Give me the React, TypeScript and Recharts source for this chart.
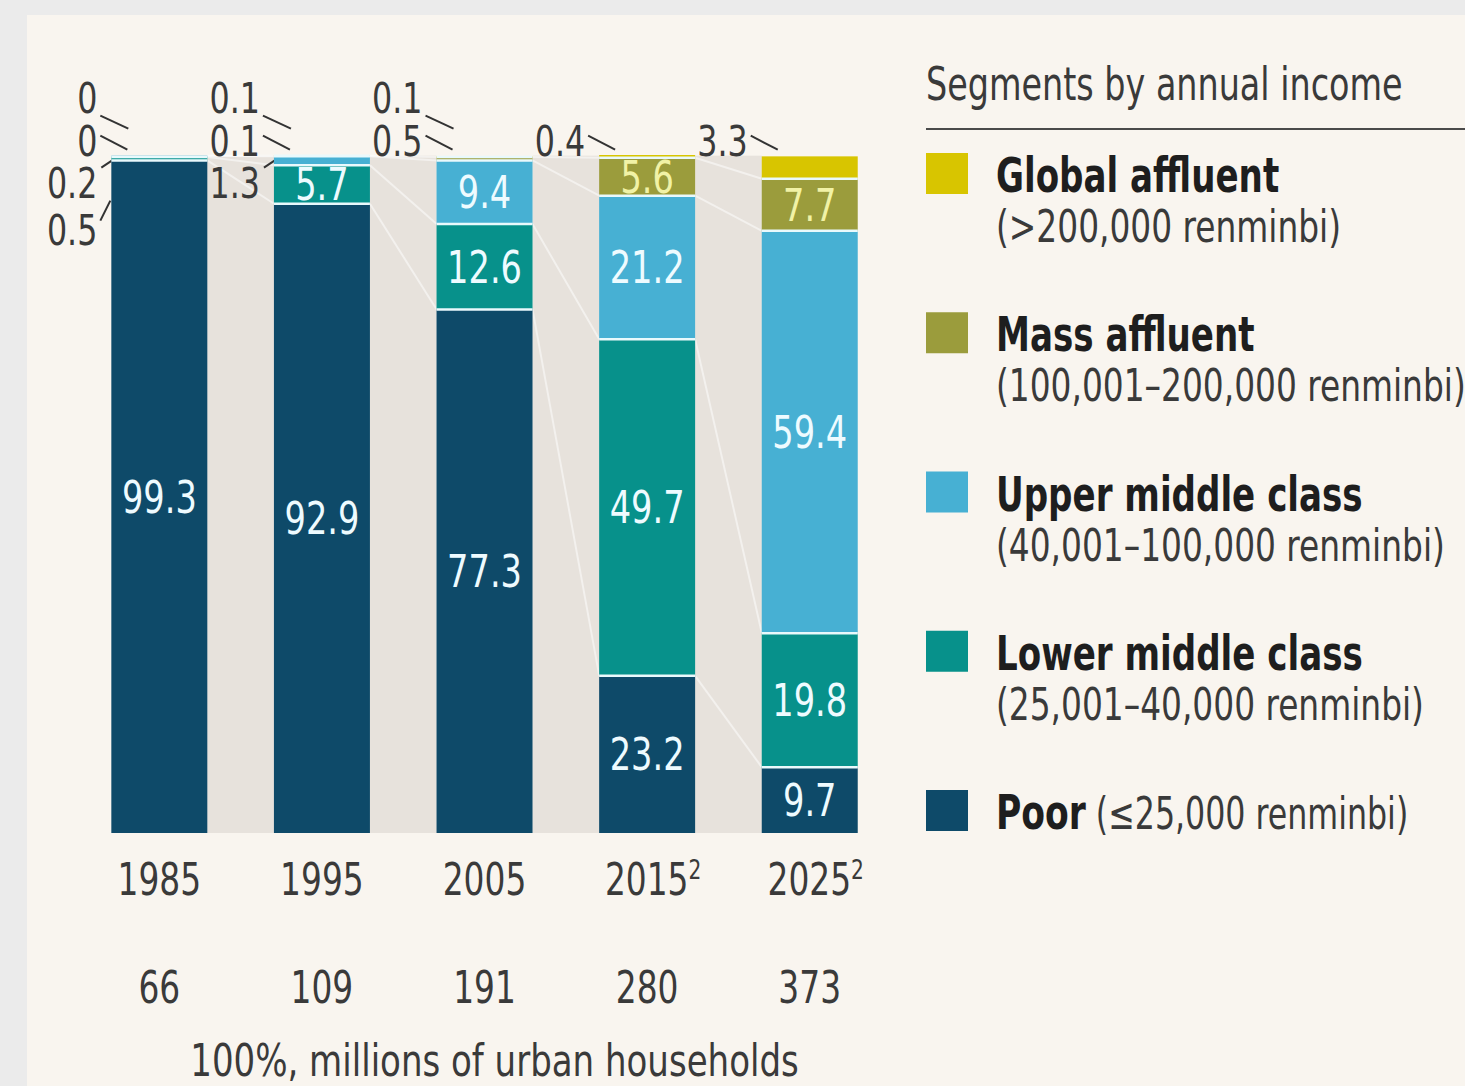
import React from 'react';
import { BarChart, Bar, XAxis, YAxis, Legend, LabelList, Label } from 'recharts';

// ---------- data ----------
const years = ['1985', '1995', '2005', '2015', '2025'];
const yearNotes = ['', '', '', '2', '2'];
const totalHouseholds = [66, 109, 191, 280, 373];

const poor = [99.3, 92.9, 77.3, 23.2, 9.7];
const lowerMiddle = [0.5, 5.7, 12.6, 49.7, 19.8];
const upperMiddle = [0.2, 1.3, 9.4, 21.2, 59.4];
const massAffluent = [0, 0.1, 0.5, 5.6, 7.7];
const globalAffluent = [0, 0.1, 0.1, 0.4, 3.3];

const seriesKeys = ['poor', 'lower', 'upper', 'mass', 'global'];
const seriesNames = ['Poor', 'Lower middle class', 'Upper middle class', 'Mass affluent', 'Global affluent'];
const seriesRanges = [
  '(≤25,000 renminbi)',
  '(25,001–40,000 renminbi)',
  '(40,001–100,000 renminbi)',
  '(100,001–200,000 renminbi)',
  '(>200,000 renminbi)',
];
const seriesValues = [poor, lowerMiddle, upperMiddle, massAffluent, globalAffluent];

const axisTitle = '100%, millions of urban households';
const legendTitle = 'Segments by annual income';

// ---------- styles ----------
const FONT = "'Liberation Sans Narrow', 'DejaVu Sans Condensed', 'Roboto Condensed', sans-serif";
const seriesColors = ['#0e4a69', '#07918b', '#47b0d3', '#9b9c3c', '#d8c500'];
const labelColors = ['#eefbff', '#eefbff', '#eefbff', '#f1f2a6', '#f1f2a6'];
const GAP_FILL = '#e7e2dc';
const TEXT = '#3a3a3a';
const GAP_RATIO = 0.205;
const INSIDE_MIN = 5;

const data = years.map((year, i) => ({
  year,
  note: yearNotes[i],
  total: totalHouseholds[i],
  poor: poor[i],
  lower: lowerMiddle[i],
  upper: upperMiddle[i],
  mass: massAffluent[i],
  global: globalAffluent[i],
}));

// condensed text: horizontally squeezed around its anchor point
const CText = ({ x, y, sx = 0.83, children, ...rest }: any) => (
  <text transform={`translate(${x},${y}) scale(${sx},1)`} x={0} y={0} fontFamily={FONT} {...rest}>
    {children}
  </text>
);

const cumulative = (row: number, upTo: number) => {
  let s = 0;
  for (let k = 0; k <= upTo; k++) s += seriesValues[k][row];
  return s;
};

// outside labels for the small segments of a column
const outsideLabels = (row: number) => {
  const res: { s: number; line: number }[] = [];
  let line = 2;
  for (const s of [3, 4]) {
    if (seriesValues[s][row] < INSIDE_MIN) {
      res.push({ s, line });
      line--;
    }
  }
  let line2 = 3;
  for (const s of [2, 1]) {
    if (seriesValues[s][row] < INSIDE_MIN) {
      res.push({ s, line: line2 });
      line2++;
    }
  }
  return res;
};

const Segment = (props: any) => {
  const { x, y, width, height, index, sIdx } = props;
  const fill = seriesColors[sIdx];
  const items: any[] = [];
  if (sIdx === 0) {
    const bottom = y + height;
    const ppu = height / poor[index];
    const top = bottom - 100 * ppu;
    const step = width / (1 - 2 * GAP_RATIO);
    const n = years.length;
    if (index < n - 1) {
      items.push(
        <rect key="gap" x={x + width} y={top} width={step - width} height={bottom - top} fill={GAP_FILL} />
      );
      for (let s = 0; s < 4; s++) {
        const a = bottom - cumulative(index, s) * ppu;
        const b = bottom - cumulative(index + 1, s) * ppu;
        items.push(
          <line key={'c' + s} x1={x + width} y1={a} x2={x + step} y2={b} stroke="#ffffff" strokeOpacity={0.5} strokeWidth={2} />
        );
      }
    }
    const L = x;
    const baselines: Record<number, number> = { 1: top - 43, 2: top, 3: top + 42, 4: top + 89 };
    outsideLabels(index).forEach(({ s, line }) => {
      const bl = baselines[line];
      let lead: number[];
      if (line === 1) lead = [L - 11, top - 40, L + 17, top - 27];
      else if (line === 2) lead = [L - 11, top - 20, L + 16, top - 6];
      else if (line === 3) lead = [L - 10, top + 12, L + 5, top + 2];
      else lead = [L - 11, top + 65, L - 1, top + 45];
      items.push(
        <CText key={'o' + s} x={L - 14} y={bl} sx={0.82} textAnchor="end" fontSize={43} fill={TEXT}>
          {seriesValues[s][index]}
        </CText>
      );
      items.push(
        <line key={'l' + s} x1={lead[0]} y1={lead[1]} x2={lead[2]} y2={lead[3]} stroke="#333" strokeWidth={2} />
      );
    });
  }
  items.push(<rect key="r" x={x} y={y} width={width} height={Math.max(0, height)} fill={fill} />);
  if (sIdx > 0 && height > 0) {
    items.push(
      <line key="sep" x1={x} x2={x + width} y1={y + height} y2={y + height} stroke="#e9f9fc" strokeWidth={2.5} />
    );
  }
  return <g>{items}</g>;
};

const makeInsideLabel = (sIdx: number) => (props: any) => {
  const { x, y, width, height, value } = props;
  if (value == null || Number(value) < INSIDE_MIN) return null;
  return (
    <CText
      x={Number(x) + Number(width) / 2}
      y={Number(y) + Number(height) / 2}
      sx={0.85}
      dy="0.36em"
      textAnchor="middle"
      fill={labelColors[sIdx]}
      fontSize={44}
    >
      {value}
    </CText>
  );
};

const YearTick = (props: any) => {
  const { x, y, payload } = props;
  const i = payload.index ?? years.indexOf(payload.value);
  const note = yearNotes[i];
  return (
    <g>
      <CText x={x + (note ? 6 : 0)} y={y + 62} sx={0.83} textAnchor="middle" fontSize={44} fill={TEXT}>
        {payload.value}
        {note ? (
          <tspan fontSize={27} dy={-16}>
            {note}
          </tspan>
        ) : null}
      </CText>
      <CText x={x} y={y + 170} sx={0.83} textAnchor="middle" fontSize={44} fill={TEXT}>
        {totalHouseholds[i]}
      </CText>
    </g>
  );
};

const AxisTitle = (props: any) => {
  const vb = props.viewBox || {};
  return (
    <CText x={vb.x + vb.width / 2 + 10} y={vb.y + 243} sx={0.86} textAnchor="middle" fontSize={44} fill={TEXT}>
      {axisTitle}
    </CText>
  );
};

const LegendContent = () => {
  const order = [4, 3, 2, 1, 0];
  return (
    <svg width={539} height={880} style={{ overflow: 'visible', display: 'block' }}>
      <CText x={0} y={100} sx={0.79} fontSize={47} fill={TEXT}>
        {legendTitle}
      </CText>
      <line x1={0} x2={545} y1={129} y2={129} stroke="#4a4a4a" strokeWidth={2} />
      {order.map((s, k) => {
        const y0 = 153 + k * 159.25;
        return (
          <g key={s}>
            <rect x={0} y={y0} width={42} height={41} fill={seriesColors[s]} />
            {s === 0 ? (
              <CText x={70} y={y0 + 39} sx={0.8} fill="#1e1e1e">
                <tspan fontWeight="bold" fontSize={48}>
                  {seriesNames[s]}
                </tspan>
                <tspan fill={TEXT} fontSize={44}>
                  {' '}
                  {seriesRanges[s]}
                </tspan>
              </CText>
            ) : (
              <>
                <CText x={70} y={y0 + 39} sx={0.79} fontSize={48} fontWeight="bold" fill="#1e1e1e">
                  {seriesNames[s]}
                </CText>
                <CText x={70} y={y0 + 89} sx={0.83} fontSize={44} fill={TEXT}>
                  {seriesRanges[s]}
                </CText>
              </>
            )}
          </g>
        );
      })}
    </svg>
  );
};

export default function App() {
  return (
    <div
      style={{
        position: 'absolute',
        left: 0,
        top: 0,
        width: 1465,
        height: 1086,
        background: '#ebebeb',
        overflow: 'hidden',
        fontFamily: FONT,
      }}
    >
      <div style={{ position: 'absolute', left: 27, top: 15, right: 0, bottom: 0, background: '#f9f5ef' }} />
      <div style={{ position: 'absolute', left: 0, top: 0 }}>
        <BarChart
          width={1465}
          height={1086}
          data={data}
          margin={{ top: 155, right: 574, bottom: 0, left: 78 }}
          barCategoryGap={`${GAP_RATIO * 100}%`}
        >
          <XAxis
            dataKey="year"
            height={253}
            tickLine={false}
            axisLine={false}
            tickSize={0}
            tickMargin={0}
            interval={0}
            tick={(p: any) => <YearTick {...p} />}
          >
            <Label content={AxisTitle} />
          </XAxis>
          <YAxis hide domain={[0, 100]} type="number" />
          <Legend
            layout="vertical"
            align="right"
            verticalAlign="top"
            content={() => <LegendContent />}
            wrapperStyle={{ position: 'absolute', left: 926, top: 0, width: 0, height: 0, overflow: 'visible' }}
          />
          {seriesKeys.map((key, s) => (
            <Bar
              key={key}
              dataKey={key}
              name={seriesNames[s]}
              stackId="a"
              fill={seriesColors[s]}
              isAnimationActive={false}
              shape={(p: any) => <Segment {...p} sIdx={s} />}
            >
              <LabelList dataKey={key} content={makeInsideLabel(s)} />
            </Bar>
          ))}
        </BarChart>
      </div>
    </div>
  );
}
